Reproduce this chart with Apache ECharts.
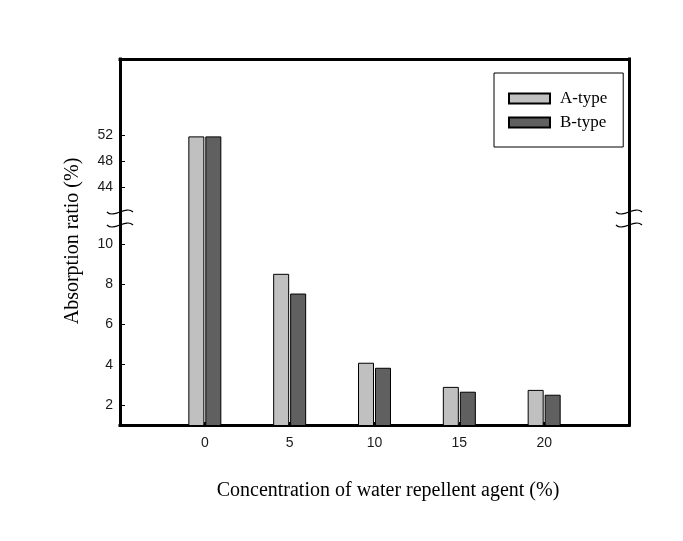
<!DOCTYPE html>
<html>
<head>
<meta charset="utf-8">
<script src="https://cdn.jsdelivr.net/npm/echarts@6/dist/echarts.min.js"></script>
<style>
  html, body { margin: 0; padding: 0; background: #fff; }
  #chart-container { width: 683px; height: 541px; }
</style>
</head>
<body>
<div id="chart-container"></div>
<script>
// data
const categories = ['-5', '0', '5', '10', '15', '20', '25'];
const aType = [null, 51.7, 8.49, 4.07, 2.87, 2.72, null];
const bType = [null, 51.7, 7.51, 3.82, 2.63, 2.48, null];
const lowerTicks = [2, 4, 6, 8, 10];
const upperTicks = [44, 48, 52];
const shownCats = ['0', '5', '10', '15', '20'];

const myChart = echarts.init(document.getElementById('chart-container'));

// layout
const plotLeft = 120, plotRight = 54, plotTop = 59, bottomLine = 425, breakY = 218;
const H = 541;
const barW = 15;
const spine = { color: '#000', width: 3, cap: 'square' };
const tickFont = { fontFamily: 'Liberation Sans', fontSize: 14, color: '#1a1a1a' };

function xAxisFor(gridIndex, position, showLabels) {
  return {
    type: 'category',
    gridIndex: gridIndex,
    position: position,
    data: categories,
    boundaryGap: false,
    axisLine: { lineStyle: spine },
    axisTick: {
      show: showLabels,
      inside: true,
      length: 3,
      lineStyle: { color: '#000', width: 2 },
      interval: 0
    },
    axisLabel: {
      show: showLabels,
      interval: 0,
      margin: 11,
      ...tickFont,
      formatter: v => (shownCats.includes(v) ? v : '')
    },
    splitLine: { show: false }
  };
}

function yAxisFor(gridIndex, min, max, ticks) {
  return {
    type: 'value',
    gridIndex: gridIndex,
    position: 'left',
    min: min,
    max: max,
    axisLine: { show: true, lineStyle: spine },
    axisTick: {
      show: true,
      inside: true,
      length: 5,
      customValues: ticks,
      lineStyle: { color: '#000', width: 1 }
    },
    axisLabel: { customValues: ticks, margin: 7, ...tickFont },
    splitLine: { show: false }
  };
}

function rightAxisFor(gridIndex, min, max) {
  return {
    type: 'value',
    gridIndex: gridIndex,
    position: 'right',
    min: min,
    max: max,
    axisLine: { show: true, lineStyle: spine },
    axisTick: { show: false },
    axisLabel: { show: false },
    splitLine: { show: false }
  };
}

// bar drawn through the axis scale; the edge cut by the axis break gets no outline
function barRenderer(offset) {
  return function (params, api) {
    const cs = params.coordSys;
    const p = api.coord([api.value(0), api.value(1)]);
    const gridTop = cs.y, gridBottom = cs.y + cs.height;
    const topY = Math.max(p[1], gridTop);
    if (topY >= gridBottom) return null;
    const x0 = p[0] + offset - barW / 2, x1 = x0 + barW;
    const cut = p[1] < gridTop;
    const line = pts => ({
      type: 'polyline',
      shape: { points: pts },
      style: { stroke: '#000', lineWidth: 1, fill: null }
    });
    const children = [{
      type: 'rect',
      shape: { x: x0, y: topY, width: barW, height: gridBottom - topY },
      style: { fill: api.visual('color') }
    }];
    if (cut) {
      children.push(line([[x0, gridBottom], [x0, topY]]));
      children.push(line([[x1, gridBottom], [x1, topY]]));
    } else {
      children.push(line([[x0, gridBottom], [x0, topY], [x1, topY], [x1, gridBottom]]));
    }
    return { type: 'group', children: children };
  };
}

function barSeries(name, values, gridIndex, color, offset) {
  return {
    name: name,
    type: 'custom',
    xAxisIndex: gridIndex,
    yAxisIndex: gridIndex * 2,
    data: values.map((v, i) => [i, v]).filter(d => d[1] != null),
    encode: { x: 0, y: 1 },
    renderItem: barRenderer(offset),
    itemStyle: { color: color, borderColor: '#000', borderWidth: 1 }
  };
}

function breakMark(x, y) {
  return {
    type: 'bezierCurve',
    shape: { x1: x - 13, y1: y, cpx1: x - 6, cpy1: y + 7, cpx2: x + 6, cpy2: y - 7, x2: x + 13, y2: y },
    style: { stroke: '#000', lineWidth: 1.2, fill: null },
    z: 100
  };
}

const xR = 683 - plotRight;

myChart.setOption({
  animation: false,
  backgroundColor: '#fff',
  legend: {
    orient: 'vertical',
    left: 494,
    top: 73,
    padding: [17, 16, 16, 14],
    itemGap: 7,
    itemWidth: 41,
    itemHeight: 10,
    borderColor: '#000',
    borderWidth: 1,
    icon: 'rect',
    data: ['A-type', 'B-type'],
    textStyle: { fontFamily: 'Liberation Serif', fontSize: 17, color: '#000', padding: [0, 0, 0, 5] }
  },
  grid: [
    { left: plotLeft, right: plotRight, top: breakY, bottom: H - bottomLine },
    { left: plotLeft, right: plotRight, top: plotTop, bottom: H - breakY }
  ],
  xAxis: [xAxisFor(0, 'bottom', true), xAxisFor(1, 'top', false)],
  yAxis: [
    yAxisFor(0, 1, 11.29, lowerTicks),
    rightAxisFor(0, 1, 11.29),
    yAxisFor(1, 39.2, 63.7, upperTicks),
    rightAxisFor(1, 39.2, 63.7)
  ],
  series: [
    barSeries('A-type', aType, 0, '#c0c0c0', -8.5),
    barSeries('B-type', bType, 0, '#606060', 8.5),
    barSeries('A-type', aType, 1, '#c0c0c0', -8.5),
    barSeries('B-type', bType, 1, '#606060', 8.5)
  ],
  graphic: [
    breakMark(plotLeft, breakY - 6),
    breakMark(plotLeft, breakY + 7),
    breakMark(xR, breakY - 6),
    breakMark(xR, breakY + 7),
    {
      type: 'text',
      x: 388,
      y: 491,
      style: {
        text: 'Concentration of water repellent agent (%)',
        fontFamily: 'Liberation Serif',
        fontSize: 20,
        fill: '#000',
        align: 'center',
        verticalAlign: 'middle'
      }
    },
    {
      type: 'text',
      x: 73,
      y: 241,
      rotation: Math.PI / 2,
      style: {
        text: 'Absorption ratio (%)',
        fontFamily: 'Liberation Serif',
        fontSize: 20,
        fill: '#000',
        align: 'center',
        verticalAlign: 'middle'
      }
    }
  ]
});
</script>
</body>
</html>
